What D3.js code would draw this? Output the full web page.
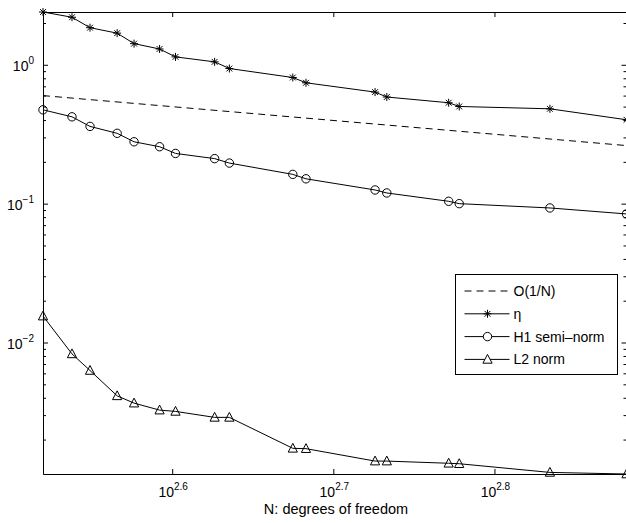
<!DOCTYPE html>
<html>
<head>
<meta charset="utf-8">
<script src="https://cdnjs.cloudflare.com/ajax/libs/d3/7.8.5/d3.min.js"></script>
<style>
body { margin: 0; background: #fff; }
text { font-family: "Liberation Sans", Arial, Helvetica, sans-serif; fill: #000; }
</style>
</head>
<body>
<svg id="chart" width="626" height="523"></svg>
<script>
// degrees of freedom (x) and the three error curves
var dofs   = [331, 345, 354, 368, 377, 391, 400, 423, 432, 473, 482, 532, 541, 591, 600, 683, 762];
var eta    = [2.40, 2.20, 1.85, 1.69, 1.42, 1.30, 1.14, 1.05, 0.94, 0.81, 0.742, 0.636, 0.586, 0.533, 0.501, 0.482, 0.402];
var h1Semi = [0.474, 0.422, 0.360, 0.321, 0.279, 0.257, 0.230, 0.211, 0.196, 0.1625, 0.151, 0.1255, 0.1194, 0.104, 0.100, 0.0931, 0.0843];
var l2Norm = [0.0155, 0.00828, 0.00629, 0.00413, 0.00366, 0.00326, 0.00319, 0.00289, 0.00289, 0.00173, 0.00172, 0.00140, 0.00140, 0.00135, 0.00134, 0.00116, 0.00113];
// reference slope line, its two ends
var refN = [331, 762];
var refVal = [0.60, 0.262];

var xTickExp = [2.6, 2.7, 2.8];
var yTickExp = [-2, -1, 0];
var legendLabels = ["O(1/N)", "\u03b7", "H1 semi\u2013norm", "L2 norm"];
var xLabel = "N: degrees of freedom";

var svg = d3.select("#chart");
var pLeft = 43, pRight = 626.5, pTop = 12, pBottom = 474;

var allVals = eta.concat(h1Semi, l2Norm);
var x = d3.scaleLog().domain(d3.extent(dofs)).range([pLeft, pRight]);
var y = d3.scaleLog().domain(d3.extent(allVals)).range([pBottom, pTop]);

var yMajor = yTickExp.map(function(e) { return Math.pow(10, e); });
var yMinor = [];
for (var e = -3; e <= 0; e++) {
  for (var m = 2; m <= 9; m++) {
    var v = m * Math.pow(10, e);
    if (v >= y.domain()[0] && v <= y.domain()[1]) yMinor.push(v);
  }
}
var xMajor = xTickExp.map(function(e) { return Math.pow(10, e); });

// axes box + ticks (ticks point inward)
function noLabel() { return ""; }
svg.append("g").attr("transform", "translate(0," + pBottom + ")")
  .call(d3.axisBottom(x).tickValues(xMajor).tickSizeInner(-5).tickSizeOuter(0).tickFormat(noLabel));
svg.append("g").attr("transform", "translate(0," + pTop + ")")
  .call(d3.axisTop(x).tickValues(xMajor).tickSizeInner(-5).tickSizeOuter(0).tickFormat(noLabel));
svg.append("g").attr("transform", "translate(" + pLeft + ",0)")
  .call(d3.axisLeft(y).tickValues(yMajor).tickSizeInner(-5).tickSizeOuter(0).tickFormat(noLabel));
svg.append("g").attr("transform", "translate(" + pLeft + ",0)")
  .call(d3.axisLeft(y).tickValues(yMinor).tickSizeInner(-3).tickSizeOuter(0).tickFormat(noLabel));
svg.append("g").attr("transform", "translate(" + pRight + ",0)")
  .call(d3.axisRight(y).tickValues(yMajor).tickSizeInner(-5).tickSizeOuter(0).tickFormat(noLabel));
svg.append("g").attr("transform", "translate(" + pRight + ",0)")
  .call(d3.axisRight(y).tickValues(yMinor).tickSizeInner(-3).tickSizeOuter(0).tickFormat(noLabel));
svg.selectAll(".domain, .tick line").attr("stroke", "#000").attr("stroke-width", 1);

// tick labels like 10^2.6
function powLabel(sel, exp) {
  sel.append("tspan").attr("font-size", 14).text("10");
  sel.append("tspan").attr("font-size", 10).attr("dy", -7).text(exp);
}
yTickExp.forEach(function(e) {
  var t = svg.append("text").attr("x", 34).attr("y", y(Math.pow(10, e)) + 6).attr("text-anchor", "end");
  powLabel(t, e < 0 ? "\u2212" + (-e) : String(e));
});
xTickExp.forEach(function(e) {
  var t = svg.append("text").attr("x", x(Math.pow(10, e)) + 1).attr("y", 497).attr("text-anchor", "middle");
  powLabel(t, String(e));
});
svg.append("text").attr("x", 336).attr("y", 514).attr("text-anchor", "middle")
  .attr("font-size", 14.5).text(xLabel);

// markers
var sym = {
  star: "M-4,0H4M0,-4V4M-2.9,-2.9L2.9,2.9M-2.9,2.9L2.9,-2.9",
  circle: "M4.2,0A4.2,4.2 0 1,1 -4.2,0A4.2,4.2 0 1,1 4.2,0Z",
  tri: "M0,-5L4.6,3.8L-4.6,3.8Z"
};

var plot = svg.append("g");
var line = d3.line().x(function(d) { return x(d[0]); }).y(function(d) { return y(d[1]); });

plot.append("path").datum(d3.zip(refN, refVal)).attr("d", line)
  .attr("fill", "none").attr("stroke", "#000").attr("stroke-width", 1).attr("stroke-dasharray", "7,5");

var series = [
  { vals: eta, mark: "star" },
  { vals: h1Semi, mark: "circle" },
  { vals: l2Norm, mark: "tri" }
];
series.forEach(function(s) {
  var pts = d3.zip(dofs, s.vals);
  plot.append("path").datum(pts).attr("d", line)
    .attr("fill", "none").attr("stroke", "#000").attr("stroke-width", 1);
  plot.selectAll(null).data(pts).enter().append("path")
    .attr("transform", function(d) { return "translate(" + x(d[0]) + "," + y(d[1]) + ")"; })
    .attr("d", sym[s.mark]).attr("fill", "none").attr("stroke", "#000").attr("stroke-width", 1);
});

// legend
var lg = svg.append("g").attr("transform", "translate(455.5,274.5)");
lg.append("rect").attr("width", 162).attr("height", 100).attr("fill", "#fff").attr("stroke", "#000");
var marks = [null, "star", "circle", "tri"];
legendLabels.forEach(function(lbl, i) {
  var cy = 16.5 + i * 22.8;
  lg.append("line").attr("x1", 9).attr("x2", 54).attr("y1", cy).attr("y2", cy)
    .attr("stroke", "#000").attr("stroke-width", 1).attr("stroke-dasharray", i == 0 ? "7,5" : null);
  if (marks[i]) {
    lg.append("path").attr("transform", "translate(32," + cy + ")").attr("d", sym[marks[i]])
      .attr("fill", "#fff").attr("stroke", "#000");
  }
  lg.append("text").attr("x", 58).attr("y", cy + 5).attr("font-size", 14).text(lbl);
});
</script>
</body>
</html>
